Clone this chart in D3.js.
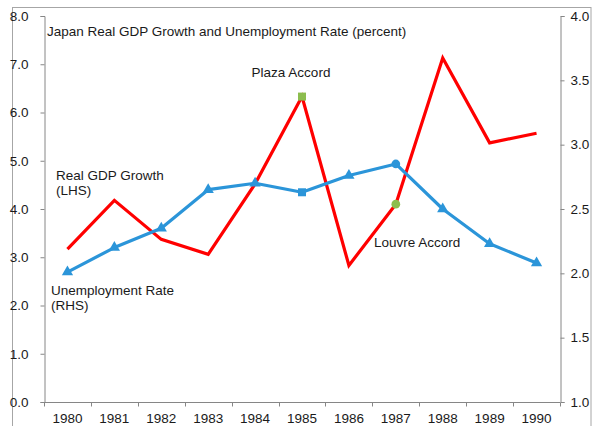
<!DOCTYPE html>
<html>
<head>
<meta charset="utf-8">
<script src="https://cdn.jsdelivr.net/npm/d3@7"></script>
<style>
  html, body { margin: 0; padding: 0; background: #fff; }
  svg text { font-family: "Liberation Sans", Arial, sans-serif; fill: #1a1a1a; }
</style>
</head>
<body>
<svg id="chart" width="597" height="426"></svg>
<script>
// Japan, 1980-1990
const years = ["1980","1981","1982","1983","1984","1985","1986","1987","1988","1989","1990"];
const gdpGrowth = [3.17, 4.18, 3.37, 3.06, 4.52, 6.33, 2.83, 4.10, 7.13, 5.37, 5.57];      // left axis
const unemployment = [2.01, 2.20, 2.35, 2.65, 2.70, 2.63, 2.76, 2.85, 2.50, 2.23, 2.08];   // right axis
const unempMarkers = ["tri","tri","tri","tri","tri","square","tri","circle","tri","tri","tri"];
const leftTicks = [0, 1, 2, 3, 4, 5, 6, 7, 8];
const rightTicks = [1.0, 1.5, 2.0, 2.5, 3.0, 3.5, 4.0];
const events = [
  { year: "1985", label: "Plaza Accord", shape: "square" },
  { year: "1987", label: "Louvre Accord", shape: "circle" }
];

const svg = d3.select("#chart");
const plot = { left: 44, right: 560, top: 16, bottom: 402 };

const x = d3.scaleBand().domain(years).range([plot.left, plot.right]).padding(0);
const yL = d3.scaleLinear().domain([0, 8]).range([plot.bottom, plot.top]);
const yR = d3.scaleLinear().domain([1, 4]).range([plot.bottom, plot.top]);
const cx = d => x(d) + x.bandwidth() / 2;

// outer frame
svg.append("rect").attr("x", 12.5).attr("y", 7.5).attr("width", 578.5).attr("height", 430)
  .attr("fill", "none").attr("stroke", "#a6a6a6").attr("stroke-width", 1);

const axisColor = "#868686";
const fontSize = "13.5px";
function styleAxis(g) {
  g.selectAll("path, line").attr("stroke", axisColor).attr("stroke-width", 1);
  g.select(".domain").attr("stroke", axisColor);
  g.selectAll("text").attr("font-size", fontSize).attr("fill", "#1a1a1a")
    .attr("font-family", "'Liberation Sans', Arial, sans-serif");
}

// left axis
const gL = svg.append("g").attr("transform", `translate(${plot.left + 0.5},0)`)
  .call(d3.axisLeft(yL).tickValues(leftTicks).tickFormat(d3.format(".1f")).tickSize(4).tickSizeOuter(4).tickPadding(12));
styleAxis(gL);

// right axis
const gR = svg.append("g").attr("transform", `translate(${plot.right + 0.5},0)`)
  .call(d3.axisRight(yR).tickValues(rightTicks).tickFormat(d3.format(".1f")).tickSize(4).tickSizeOuter(4).tickPadding(6));
styleAxis(gR);

// bottom axis with ticks between categories
const gB = svg.append("g").attr("transform", `translate(0,${plot.bottom + 0.5})`);
gB.append("line").attr("x1", plot.left).attr("x2", plot.right).attr("stroke", axisColor);
gB.selectAll("line.tick").data(years.concat(["end"])).join("line")
  .attr("class", "tick")
  .attr("x1", (d, i) => Math.round(i < years.length ? x(d) : plot.right) + 0.5)
  .attr("x2", (d, i) => Math.round(i < years.length ? x(d) : plot.right) + 0.5)
  .attr("y1", 0).attr("y2", 4).attr("stroke", axisColor);
gB.selectAll("text").data(years).join("text")
  .attr("x", d => cx(d)).attr("y", 20.5).attr("text-anchor", "middle")
  .attr("font-size", fontSize).text(d => d);

// GDP growth line
const gdpLine = d3.line().x((d, i) => cx(years[i])).y(d => yL(d));
svg.append("path").datum(gdpGrowth).attr("d", gdpLine)
  .attr("fill", "none").attr("stroke", "#ff0000").attr("stroke-width", 3.2).attr("stroke-linejoin", "miter");

// Unemployment line
const blue = "#2b95d9";
const unLine = d3.line().x((d, i) => cx(years[i])).y(d => yR(d));
svg.append("path").datum(unemployment).attr("d", unLine)
  .attr("fill", "none").attr("stroke", blue).attr("stroke-width", 3.2).attr("stroke-linejoin", "round");

const symType = { tri: d3.symbolTriangle, square: d3.symbolSquare, circle: d3.symbolCircle };
const symSize = { tri: 55, square: 64, circle: 60 };
svg.selectAll("path.um").data(unemployment).join("path")
  .attr("class", "um")
  .attr("transform", (d, i) => `translate(${cx(years[i])},${yR(d)})`)
  .attr("d", (d, i) => d3.symbol().type(symType[unempMarkers[i]]).size(symSize[unempMarkers[i]])())
  .attr("fill", blue);

// event markers on GDP line
const green = "#8cbd4e";
svg.selectAll("path.ev").data(events).join("path")
  .attr("class", "ev")
  .attr("transform", d => `translate(${cx(d.year)},${yL(gdpGrowth[years.indexOf(d.year)])})`)
  .attr("d", d => d3.symbol().type(symType[d.shape]).size(symType[d.shape] === d3.symbolSquare ? 64 : 60)())
  .attr("fill", green);

// annotations
const ann = svg.append("g").attr("font-size", fontSize);
ann.append("text").attr("x", 47).attr("y", 36).text("Japan Real GDP Growth and Unemployment Rate (percent)");
ann.append("text").attr("x", 291).attr("y", 77).attr("text-anchor", "middle").text(events[0].label);
ann.append("text").attr("x", 374).attr("y", 247).text(events[1].label);
ann.append("text").attr("x", 56).attr("y", 180).text("Real GDP Growth");
ann.append("text").attr("x", 56).attr("y", 195).text("(LHS)");
ann.append("text").attr("x", 51).attr("y", 295).text("Unemployment Rate");
ann.append("text").attr("x", 51).attr("y", 310).text("(RHS)");
</script>
</body>
</html>
